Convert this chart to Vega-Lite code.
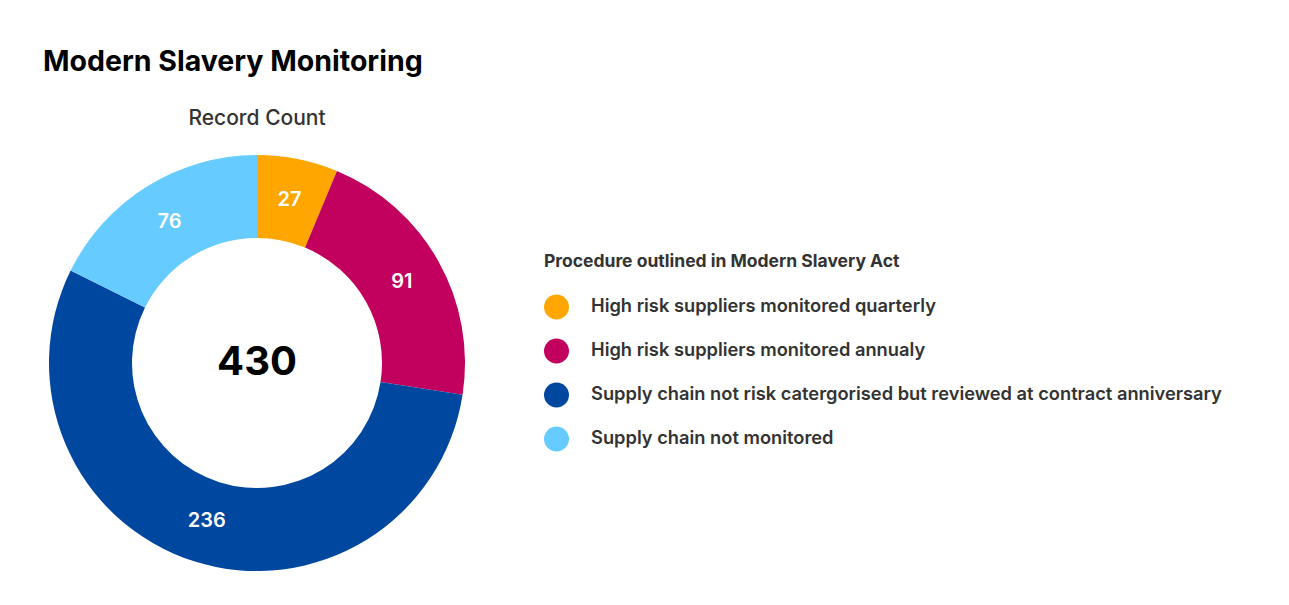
{
  "$schema": "https://vega.github.io/schema/vega-lite/v6.json",
  "background": "white",
  "autosize": {"type": "pad"},
  "padding": {"left": 43, "top": 47, "right": 0, "bottom": 0},
  "title": {
    "text": "Modern Slavery Monitoring",
    "anchor": "start",
    "font": "Inter",
    "fontSize": 28.5,
    "fontWeight": 700,
    "color": "#000000",
    "offset": 32
  },
  "vconcat": [
    {
      "width": 428,
      "height": 436,
      "title": {
        "text": "Record Count",
        "anchor": "middle",
        "font": "Inter",
        "fontSize": 21,
        "fontWeight": 500,
        "color": "#333333",
        "offset": 16
      },
      "data": {
        "values": [
          {"category": "High risk suppliers monitored quarterly", "count": 27, "order": 1},
          {"category": "High risk suppliers monitored annualy", "count": 91, "order": 2},
          {"category": "Supply chain not risk catergorised but reviewed at contract anniversary", "count": 236, "order": 3},
          {"category": "Supply chain not monitored", "count": 76, "order": 4}
        ]
      },
      "layer": [
        {
          "mark": {"type": "arc", "outerRadius": 208, "innerRadius": 125, "stroke": null},
          "encoding": {
            "theta": {"field": "count", "type": "quantitative", "stack": true},
            "order": {"field": "order", "type": "quantitative"},
            "color": {
              "field": "category",
              "type": "nominal",
              "scale": {
                "domain": [
                  "High risk suppliers monitored quarterly",
                  "High risk suppliers monitored annualy",
                  "Supply chain not risk catergorised but reviewed at contract anniversary",
                  "Supply chain not monitored"
                ],
                "range": ["#FFA600", "#C2005E", "#0047A0", "#66CCFF"]
              },
              "legend": {
                "title": "Procedure outlined in Modern Slavery Act",
                "orient": "none",
                "legendX": 501,
                "legendY": 108,
                "titleFont": "Inter",
                "titleFontSize": 17.5,
                "titleFontWeight": 700,
                "titleColor": "#333333",
                "titleLimit": 800,
                "titlePadding": 24,
                "labelFont": "Inter",
                "labelFontSize": 18.3,
                "labelFontWeight": 600,
                "labelColor": "#333333",
                "labelLimit": 800,
                "labelOffset": 22,
                "symbolType": "circle",
                "symbolSize": 625,
                "symbolStrokeWidth": 0,
                "symbolOpacity": 1,
                "rowPadding": 19
              }
            }
          }
        },
        {
          "mark": {"type": "text", "radius": 166, "font": "Inter", "fontSize": 20, "fontWeight": 600, "fill": "#ffffff"},
          "encoding": {
            "theta": {"field": "count", "type": "quantitative", "stack": true},
            "order": {"field": "order", "type": "quantitative"},
            "text": {"field": "count", "type": "quantitative"}
          }
        },
        {
          "transform": [{"aggregate": [{"op": "sum", "field": "count", "as": "total"}]}],
          "mark": {"type": "text", "font": "Inter", "fontSize": 40, "fontWeight": 700, "fill": "#000000"},
          "encoding": {
            "text": {"field": "total", "type": "quantitative"}
          }
        }
      ]
    }
  ],
  "config": {"view": {"stroke": null}}
}
